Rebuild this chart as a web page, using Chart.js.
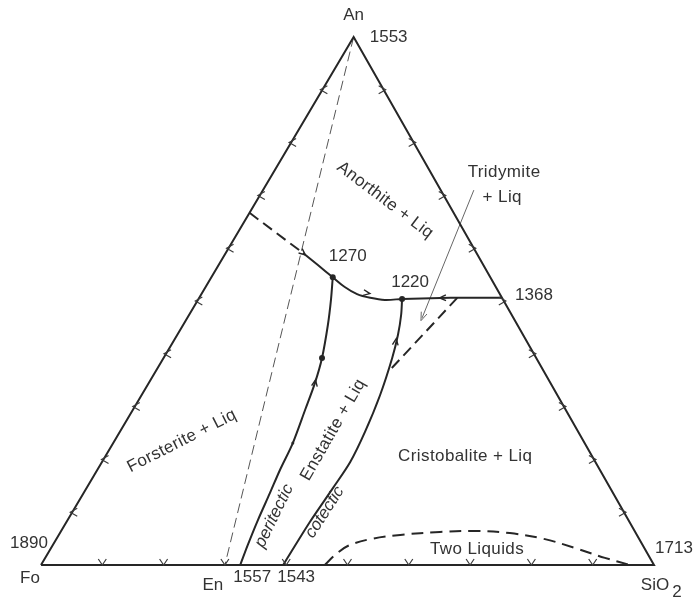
<!DOCTYPE html>
<html>
<head>
<meta charset="utf-8">
<title>Fo - An - SiO2</title>
<script src="https://cdn.jsdelivr.net/npm/chart.js@4.4.0/dist/chart.umd.min.js"></script>
<style>
  html, body { margin: 0; padding: 0; background: #fff; }
  #wrap { width: 697px; height: 599px; }
</style>
</head>
<body>
<div id="wrap"><canvas id="chrTernary" width="697" height="599"></canvas></div>
<script>
// Fo - An - SiO2 liquidus (wt %)
// every point is [SiO2, An], Fo is the rest

const vertexNames = ['Fo', 'SiO2', 'An'];
const vertexTemps = ['1890', '1713', '1553'];
const vertices = [[0, 0], [100, 0], [0, 100]];
const enstatite = [30, 0];

const foAnDashed = [[0, 66.7], [12.6, 59.1]];
const foAnSolid = [[12.6, 59.1], [16.2, 56.8], [19.8, 54.5]];
const reactionCurve = [[19.8, 54.5], [22.7, 52.65], [25.4, 51.3], [27.9, 50.6], [30.5, 50.2], [33.2, 50.4]];
const anTrBoundary = [[33.2, 50.4], [41.0, 50.6], [49.4, 50.6]];
const peritectic = [[19.8, 54.5], [21.7, 50.2], [23.6, 45.5], [25.85, 39.2], [27.1, 34.5], [28.1, 29.4],
  [29.3, 23.1], [29.8, 18.0], [30.4, 13.6], [31.05, 8.5], [31.8, 3.8], [32.5, 0]];
const cotectic = [[33.2, 50.4], [34.6, 47.35], [36.0, 43.6], [37.3, 39.2], [38.9, 32.2],
  [40.0, 25.2], [40.5, 19.5], [40.2, 14.6], [39.7, 8.1], [39.5, 0]];
const trCrDashed = [[42.1, 50.6], [38.0, 36.6]];
const twoLiquids = [[46.3, 0], [47.0, 1.9], [48.2, 3.6], [51.2, 4.9], [55.7, 5.7], [61.9, 6.25], [67.5, 6.45],
  [73.4, 6.05], [79.7, 4.9], [85.5, 3.2], [91.3, 1.35], [96.1, 0]];
const invariantPts = [[19.8, 54.5], [33.2, 50.4], [25.85, 39.2]];
const minorPts = [[29.3, 23.1]];
const invariantTemps = ['1270', '1220'];
const edgeTemps = ['1368', '1557', '1543'];
const edgePts = [[49.4, 50.6], [32.5, 0], [39.5, 0]];
const pointerLine = [[34.4, 71.0], [38.3, 46.8]];
const tickSteps = [10, 20, 30, 40, 50, 60, 70, 80, 90];

// arrows on boundary curves: [at, toward]
const flowArrows = [
  [[12.6, 59.1], [19.8, 54.5]],
  [[26.9, 51.5], [33.2, 50.4]],
  [[39.7, 50.6], [33.2, 50.4]],
  [[27.1, 34.5], [19.8, 54.5]],
  [[36.3, 42.3], [33.2, 50.4]]
];

const fieldNames = ['Anorthite + Liq', 'Forsterite + Liq', 'Enstatite + Liq', 'Cristobalite + Liq', 'Two Liquids', 'Tridymite', '+ Liq'];
const fieldPts = [[20.9, 69.1], [11.0, 23.5], [34.6, 25.6], [58.7, 20.6], [69.6, 3.0], [37.6, 74.4], [39.7, 69.7]];
const curveNames = ['peritectic', 'cotectic'];
const curveNamePts = [[33.3, 9.3], [41.2, 10.0]];

/******************************** */

const SKEW = 0.51;   // apex sits a bit right of centre in the drawing
const INK = '#262626';
const TXT = '#333';
const FONT = '"Liberation Sans", Arial, Helvetica, sans-serif';

const toXY = (p) => ({ x: p[0] + SKEW * p[1], y: p[1] });

const lineSet = (pts, opt) => Object.assign({
  data: pts.map(toXY),
  showLine: true,
  borderColor: INK,
  borderWidth: 2,
  pointRadius: 0,
  tension: 0,
  fill: false,
  clip: false
}, opt);

const dotSet = (pts, r) => ({
  data: pts.map(toXY),
  showLine: false,
  pointRadius: r,
  pointBackgroundColor: INK,
  pointBorderWidth: 0,
  clip: false
});

const sketch = {
  id: 'sketch',
  afterDatasetsDraw(chart) {
    const ctx = chart.ctx;
    const sx = chart.scales.x, sy = chart.scales.y;
    const px = (p) => { const q = toXY(p); return [sx.getPixelForValue(q.x), sy.getPixelForValue(q.y)]; };

    const seg = (pts) => {
      ctx.beginPath();
      ctx.moveTo(pts[0][0], pts[0][1]);
      for (let i = 1; i < pts.length; i++) ctx.lineTo(pts[i][0], pts[i][1]);
      ctx.stroke();
    };
    const head = (at, to, len, open) => {
      const a = px(at), b = px(to);
      const ang = Math.atan2(b[1] - a[1], b[0] - a[0]);
      const tip = [a[0] + Math.cos(ang) * 3, a[1] + Math.sin(ang) * 3];
      const l = [tip[0] - len * Math.cos(ang - open), tip[1] - len * Math.sin(ang - open)];
      const r = [tip[0] - len * Math.cos(ang + open), tip[1] - len * Math.sin(ang + open)];
      seg([l, tip, r]);
    };

    ctx.save();
    ctx.strokeStyle = '#3c3c3c';
    ctx.lineWidth = 1.2;
    // edge chevrons
    tickSteps.forEach(k => {
      let p = px([k, 0]);
      seg([[p[0] - 4, p[1] - 6], [p[0], p[1]], [p[0] + 4, p[1] - 6]]);
      p = px([0, k]);
      seg([[p[0] + 5, p[1] - 4], [p[0] - 2, p[1]], [p[0] + 5, p[1] + 4]]);
      p = px([100 - k, k]);
      seg([[p[0] - 5, p[1] - 4], [p[0] + 2, p[1]], [p[0] - 5, p[1] + 4]]);
    });
    // flow arrows on the boundary curves
    ctx.strokeStyle = INK;
    ctx.lineWidth = 1.4;
    flowArrows.forEach(f => head(f[0], f[1], 7, 0.42));
    // pointer head
    ctx.strokeStyle = '#666';
    ctx.lineWidth = 1;
    const pa = pointerLine[0], pb = pointerLine[1];
    head(pb, [2 * pb[0] - pa[0], 2 * pb[1] - pa[1]], 9, 0.35);

    // text
    ctx.fillStyle = TXT;
    ctx.textAlign = 'center';
    ctx.textBaseline = 'middle';
    const put = (txt, p, dx, dy, rot, italic, spacing) => {
      const q = px(p);
      ctx.save();
      ctx.translate(q[0] + dx, q[1] + dy);
      if (rot) ctx.rotate(rot * Math.PI / 180);
      ctx.font = (italic ? 'italic ' : '') + '17px ' + FONT;
      ctx.letterSpacing = spacing || '0px';
      ctx.fillText(txt, 0, 0);
      ctx.restore();
    };

    put(vertexNames[0], vertices[0], -11, 13);
    put('SiO', vertices[1], 1, 20);
    put('2', vertices[1], 23, 27);
    put(vertexNames[2], vertices[2], 0, -22);
    put(vertexTemps[0], vertices[0], -12, -22);
    put(vertexTemps[1], vertices[1], 20, -17);
    put(vertexTemps[2], vertices[2], 35, 0);
    put('En', enstatite, -12, 20);
    put(invariantTemps[0], invariantPts[0], 15, -21);
    put(invariantTemps[1], invariantPts[1], 8, -17);
    put(edgeTemps[0], edgePts[0], 32, -3);
    put(edgeTemps[1], edgePts[1], 12, 12);
    put(edgeTemps[2], edgePts[2], 13, 12);

    const fieldRot = [37, -27, -60, 0, 0, 0, 0];
    fieldNames.forEach((t, i) => put(t, fieldPts[i], 0, 0, fieldRot[i], false, '0.4px'));
    put(curveNames[0], curveNamePts[0], 0, 0, -64, true);
    put(curveNames[1], curveNamePts[1], 0, 0, -57, true);
    ctx.restore();
  }
};

const chrTernary = new Chart(document.getElementById('chrTernary').getContext('2d'), {
  type: 'scatter',
  data: {
    datasets: [
      lineSet([...vertices, vertices[0]], { borderWidth: 2 }),
      lineSet([vertices[2], enstatite], { borderWidth: 1, borderColor: '#555', borderDash: [10, 5] }),
      lineSet(foAnDashed, { borderDash: [11, 6] }),
      lineSet(foAnSolid, { tension: 0.3 }),
      lineSet(reactionCurve, { tension: 0.35 }),
      lineSet(anTrBoundary),
      lineSet(peritectic, { tension: 0.3 }),
      lineSet(cotectic, { tension: 0.3 }),
      lineSet(trCrDashed, { borderDash: [11, 6] }),
      lineSet(twoLiquids, { borderDash: [12, 7], tension: 0.35 }),
      lineSet(pointerLine, { borderWidth: 1, borderColor: '#666' }),
      dotSet(invariantPts, 3),
      dotSet(minorPts, 1.5)
    ]
  },
  options: {
    responsive: false,
    animation: false,
    events: [],
    layout: { padding: { left: 41, right: 43, top: 37, bottom: 34 } },
    scales: {
      x: { type: 'linear', min: 0, max: 100, display: false },
      y: { type: 'linear', min: 0, max: 100, display: false }
    },
    plugins: {
      legend: { display: false },
      tooltip: { enabled: false }
    }
  },
  plugins: [sketch]
});
</script>
</body>
</html>
